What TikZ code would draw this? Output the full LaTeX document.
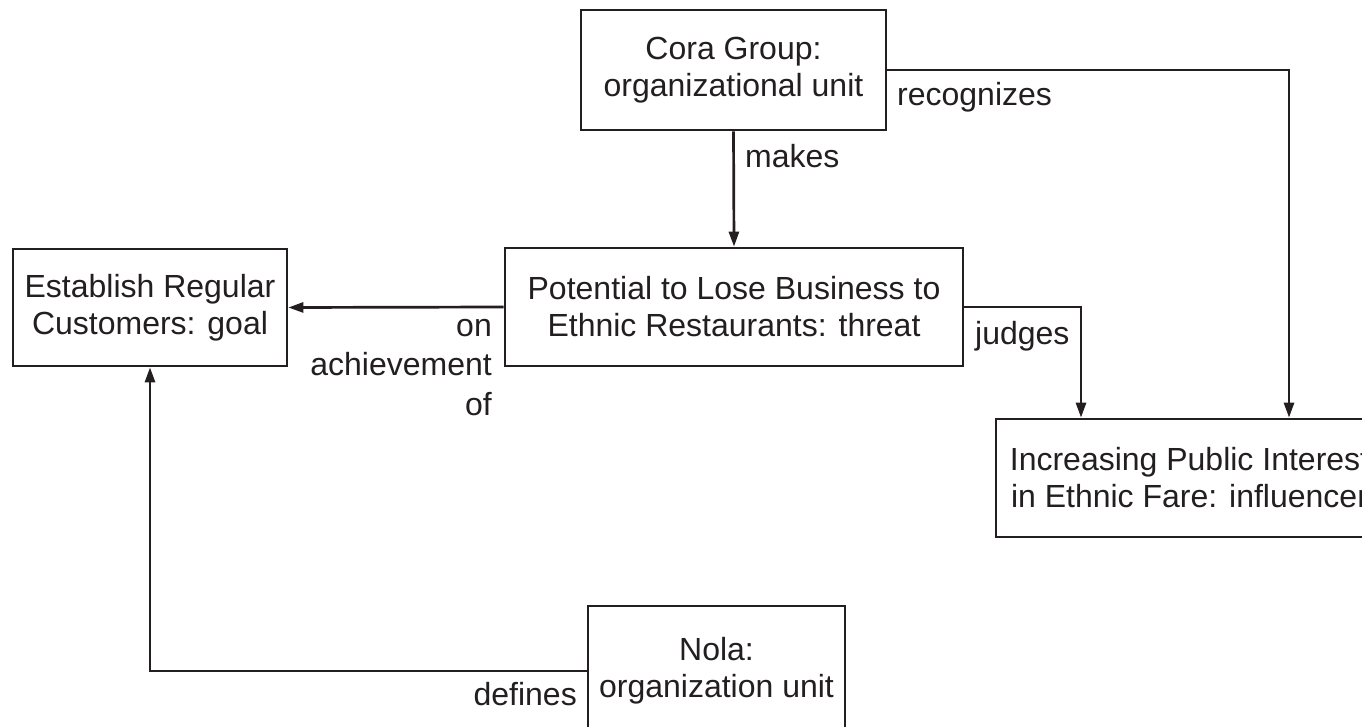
\documentclass[tikz,border=0pt]{standalone}
\usepackage{fontspec}
\setmainfont{Liberation Sans}
\usetikzlibrary{arrows.meta}
\definecolor{ink}{RGB}{35,31,32}
\begin{document}
\begin{tikzpicture}[x=1pt,y=-1pt,
  every node/.style={font=\fontsize{32}{37}\selectfont, text=ink},
  box/.style={draw=ink, line width=2.7pt, rectangle, inner sep=0pt, align=center},
  lbl/.style={inner sep=0pt, align=right},
  conn/.style={draw=ink, line width=2.7pt, -{Triangle[length=15pt,width=10pt]}}]
\useasboundingbox (0,0) rectangle (1362,727);
\clip (0,0) rectangle (1362,727);
\fill[white] (0,0) rectangle (1362,727);

\node[box, minimum width=305pt, minimum height=120pt] (cora) at (733.5,70) {Cora Group:\\organizational unit};
\node[box, minimum width=458pt, minimum height=118pt] (threat) at (734,307) {Potential to Lose Business to\\Ethnic Restaurants: threat};
\node[box, minimum width=274pt, minimum height=117pt] (goal) at (150,307.5) {Establish Regular\\Customers: goal};
\node[box, minimum width=387pt, minimum height=118pt] (infl) at (1189.5,478) {Increasing Public Interest\\in Ethnic Fare: influencer};
\node[box, minimum width=257pt, minimum height=130pt] (nola) at (716.5,671) {Nola:\\organization unit};

\draw[conn] (cora.south) -- (threat.north);
\draw[conn] (cora.east) -| ([xshift=99.5pt]infl.north);
\draw[conn] (threat.east) -| ([xshift=-108.5pt]infl.north);
\draw[conn] (threat.west) -- (goal.east);
\draw[conn] (nola.west) -| (goal.south);

\node[lbl, anchor=base west] (lmakes) at (745,168) {makes};
\node[lbl, anchor=base west] (lrec) at (897,106) {recognizes};
\node[lbl, anchor=base west] (ljud) at (975,344) {judges};
\node[lbl, anchor=base east] (lach) at (492,415) {on\\[2.5pt]achievement\\[2.5pt]of};
\node[lbl, anchor=base east] (ldef) at (577,705) {defines};
\end{tikzpicture}
\end{document}
